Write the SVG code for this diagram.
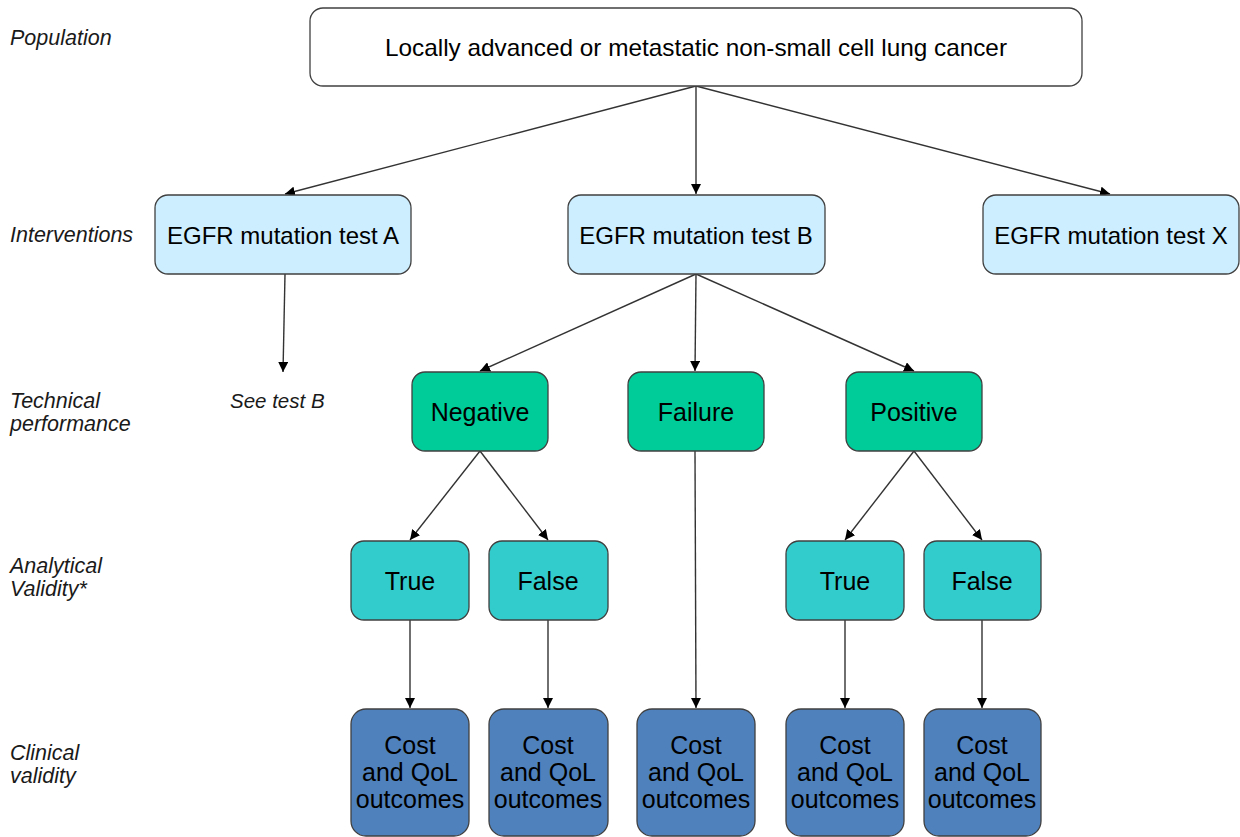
<svg xmlns="http://www.w3.org/2000/svg" width="1240" height="837" viewBox="0 0 1240 837">
<style>
.box{stroke:#404040;stroke-width:1.3}
.pop{fill:#ffffff}
.int{fill:#cceeff}
.tech{fill:#00cc99}
.ana{fill:#33cccc}
.clin{fill:#4f81bd}
.t{font-family:"Liberation Sans",Arial,sans-serif;font-size:25px;fill:#000;text-anchor:middle}
.ti{font-size:24px}
.lab{font-family:"Liberation Sans",Arial,sans-serif;font-size:21.5px;font-style:italic;fill:#1a1a1a}
.con{stroke:#333;stroke-width:1.4;fill:none;marker-end:url(#ah)}
</style>
<defs>
<marker id="ah" viewBox="0 0 10 10" refX="10" refY="5" markerWidth="10" markerHeight="10" markerUnits="userSpaceOnUse" orient="auto">
<path d="M0,0 L10,5 L0,10 z" fill="#000"/>
</marker>
</defs>
<rect width="1240" height="837" fill="#fff"/>
<g id="labels">
<text class="lab" x="10" y="45">Population</text>
<text class="lab" x="10" y="242">Interventions</text>
<text class="lab" x="10" y="408">Technical</text>
<text class="lab" x="10" y="431">performance</text>
<text class="lab" x="10" y="573">Analytical</text>
<text class="lab" x="10" y="596">Validity*</text>
<text class="lab" x="10" y="760">Clinical</text>
<text class="lab" x="10" y="783">validity</text>
<text class="lab" x="230" y="408" style="font-size:20.5px">See test B</text>
</g>
<g id="connectors">
<line class="con" x1="696" y1="86" x2="285" y2="194"/>
<line class="con" x1="696" y1="86" x2="696" y2="194"/>
<line class="con" x1="696" y1="86" x2="1110" y2="194"/>
<line class="con" x1="285" y1="274" x2="283" y2="372"/>
<line class="con" x1="696" y1="274" x2="480" y2="371"/>
<line class="con" x1="696" y1="274" x2="695" y2="371"/>
<line class="con" x1="696" y1="274" x2="914" y2="371"/>
<line class="con" x1="480" y1="451" x2="410" y2="540"/>
<line class="con" x1="480" y1="451" x2="548" y2="540"/>
<line class="con" x1="914" y1="451" x2="845" y2="540"/>
<line class="con" x1="914" y1="451" x2="982" y2="540"/>
<line class="con" x1="410" y1="620" x2="410" y2="708"/>
<line class="con" x1="548" y1="620" x2="548" y2="708"/>
<line class="con" x1="695" y1="451" x2="696" y2="708"/>
<line class="con" x1="845" y1="620" x2="845" y2="708"/>
<line class="con" x1="982" y1="620" x2="982" y2="708"/>
</g>
<g id="population">
<rect class="box pop" x="310" y="8" width="772" height="78" rx="13"/>
<text class="t ti" x="696" y="56" textLength="622" lengthAdjust="spacingAndGlyphs">Locally advanced or metastatic non-small cell lung cancer</text>
</g>
<g id="testA">
<rect class="box int" x="155" y="195" width="256" height="79" rx="13"/>
<text class="t ti" x="283" y="244">EGFR mutation test A</text>
</g>
<g id="testB">
<rect class="box int" x="568" y="195" width="257" height="79" rx="13"/>
<text class="t ti" x="696" y="244">EGFR mutation test B</text>
</g>
<g id="testX">
<rect class="box int" x="983" y="195" width="256" height="79" rx="13"/>
<text class="t ti" x="1111" y="244">EGFR mutation test X</text>
</g>
<g id="negative">
<rect class="box tech" x="412" y="372" width="136" height="79" rx="13"/>
<text class="t" x="480" y="421">Negative</text>
</g>
<g id="failure">
<rect class="box tech" x="628" y="372" width="136" height="79" rx="13"/>
<text class="t" x="696" y="421">Failure</text>
</g>
<g id="positive">
<rect class="box tech" x="846" y="372" width="136" height="79" rx="13"/>
<text class="t" x="914" y="421">Positive</text>
</g>
<g id="negTrue">
<rect class="box ana" x="351" y="541" width="118" height="79" rx="13"/>
<text class="t" x="410" y="590">True</text>
</g>
<g id="negFalse">
<rect class="box ana" x="489" y="541" width="119" height="79" rx="13"/>
<text class="t" x="548" y="590">False</text>
</g>
<g id="posTrue">
<rect class="box ana" x="786" y="541" width="118" height="79" rx="13"/>
<text class="t" x="845" y="590">True</text>
</g>
<g id="posFalse">
<rect class="box ana" x="924" y="541" width="117" height="79" rx="13"/>
<text class="t" x="982" y="590">False</text>
</g>
<g id="out1">
<rect class="box clin" x="351" y="709" width="118" height="127" rx="15"/>
<text class="t" x="410" y="754">Cost</text><text class="t" x="410" y="781">and QoL</text><text class="t" x="410" y="808">outcomes</text>
</g>
<g id="out2">
<rect class="box clin" x="489" y="709" width="119" height="127" rx="15"/>
<text class="t" x="548" y="754">Cost</text><text class="t" x="548" y="781">and QoL</text><text class="t" x="548" y="808">outcomes</text>
</g>
<g id="out3">
<rect class="box clin" x="637" y="709" width="118" height="127" rx="15"/>
<text class="t" x="696" y="754">Cost</text><text class="t" x="696" y="781">and QoL</text><text class="t" x="696" y="808">outcomes</text>
</g>
<g id="out4">
<rect class="box clin" x="786" y="709" width="118" height="127" rx="15"/>
<text class="t" x="845" y="754">Cost</text><text class="t" x="845" y="781">and QoL</text><text class="t" x="845" y="808">outcomes</text>
</g>
<g id="out5">
<rect class="box clin" x="924" y="709" width="117" height="127" rx="15"/>
<text class="t" x="982" y="754">Cost</text><text class="t" x="982" y="781">and QoL</text><text class="t" x="982" y="808">outcomes</text>
</g>
</svg>
